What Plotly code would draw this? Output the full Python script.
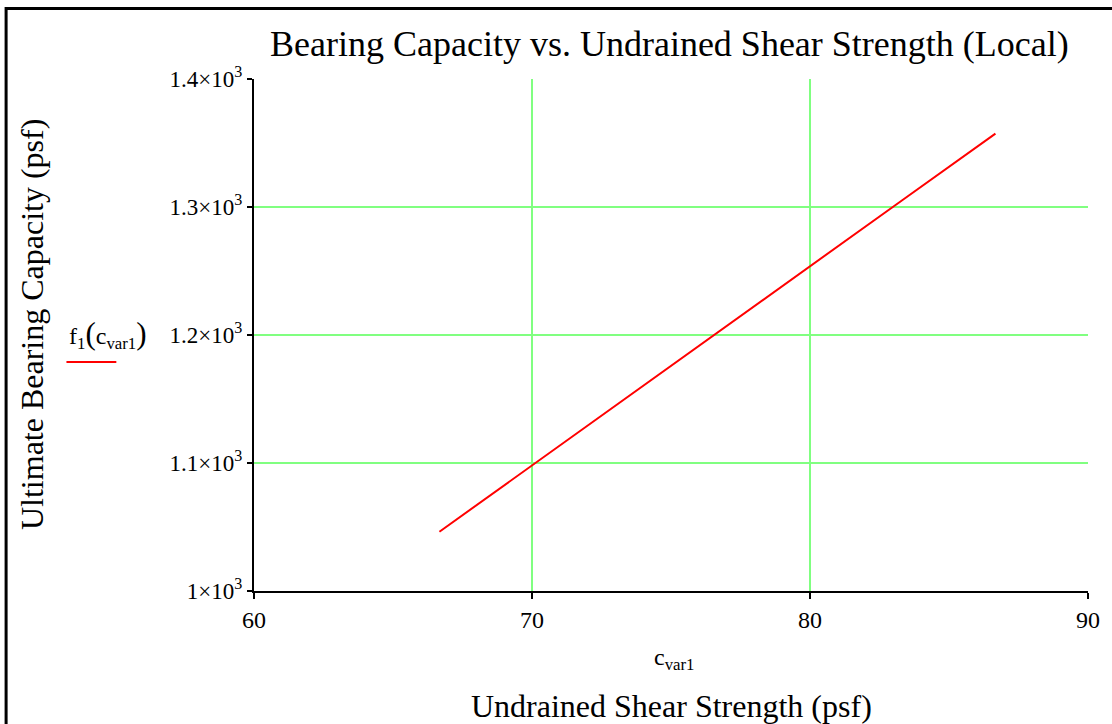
import plotly.graph_objects as go

# Data
c_var1 = [66.67, 70.0, 73.33, 76.67, 80.0, 83.33, 86.67]
f1 = [1046.3, 1098.2, 1150.0, 1201.9, 1253.7, 1305.5, 1357.3]

x_ticks = [60, 70, 80, 90]
x_ticktext = ["60", "70", "80", "90"]
y_ticks = [1000, 1100, 1200, 1300, 1400]
y_ticktext = ["1×10<sup>3</sup>", "1.1×10<sup>3</sup>", "1.2×10<sup>3</sup>",
              "1.3×10<sup>3</sup>", "1.4×10<sup>3</sup>"]

title_text = "Bearing Capacity vs. Undrained Shear Strength (Local)"
y_title = "Ultimate Bearing Capacity (psf)"
x_var = "c<sub>var1</sub>"
x_title = "Undrained Shear Strength (psf)"
legend_text = ("f<sub>1</sub><span style='font-size:31px'>(</span>c<sub>var1</sub>"
               "<span style='font-size:31px'>)</span>")

FONT = "Liberation Serif"
W, H = 1112, 724
L, R, T, B = 254, 22, 79, 133
PW, PH = W - L - R, H - T - B


def px(x):
    return (x - L) / PW


def py(y):
    return (H - B - y) / PH


fig = go.Figure()
fig.add_trace(go.Scatter(x=c_var1, y=f1, mode="lines",
                         line=dict(color="#ff0000", width=2),
                         showlegend=False, hoverinfo="skip"))

grid = "#80ff80"
fig.update_layout(
    width=W, height=H,
    margin=dict(l=L, r=R, t=T, b=B),
    paper_bgcolor="white", plot_bgcolor="white",
    font=dict(family=FONT, color="black", size=24),
    showlegend=False,
    xaxis=dict(range=[60, 90], tickvals=x_ticks, ticktext=x_ticktext,
               showgrid=True, gridcolor=grid, gridwidth=2,
               showline=True, linecolor="black", linewidth=2,
               ticks="outside", ticklen=6, tickwidth=2, tickcolor="black",
               zeroline=False, tickfont=dict(size=24, family=FONT)),
    yaxis=dict(range=[1000, 1400], tickvals=y_ticks, ticktext=y_ticktext,
               showgrid=True, gridcolor=grid, gridwidth=2,
               showline=True, linecolor="black", linewidth=2,
               ticks="outside", ticklen=5, tickwidth=2, tickcolor="black",
               zeroline=False, tickfont=dict(size=23, family=FONT)),
)

annos = [
    dict(text=title_text, x=px(670), y=py(44), size=36, angle=0),
    dict(text=y_title, x=px(31.5), y=py(325), size=32, angle=-90),
    dict(text=x_var, x=px(675), y=py(659), size=24, angle=0),
    dict(text=x_title, x=px(672), y=py(706), size=32, angle=0),
    dict(text=legend_text, x=px(108), y=py(334), size=24, angle=0),
]
for a in annos:
    fig.add_annotation(xref="paper", yref="paper", showarrow=False,
                       xanchor="center", yanchor="middle",
                       font=dict(family=FONT, color="black", size=a["size"]),
                       text=a["text"], x=a["x"], y=a["y"],
                       textangle=a["angle"])

# legend sample line
fig.add_shape(type="line", xref="paper", yref="paper",
              x0=px(66), x1=px(116), y0=py(362), y1=py(362),
              line=dict(color="#ff0000", width=2))
# outer border
fig.add_shape(type="rect", xref="paper", yref="paper",
              x0=px(5.5), x1=px(1118), y0=py(732), y1=py(8.5),
              line=dict(color="black", width=3), fillcolor="rgba(0,0,0,0)")

fig.write_html("out.html", config={"displayModeBar": False},
               post_script="document.body.style.margin='0';document.body.style.overflow='hidden';")
